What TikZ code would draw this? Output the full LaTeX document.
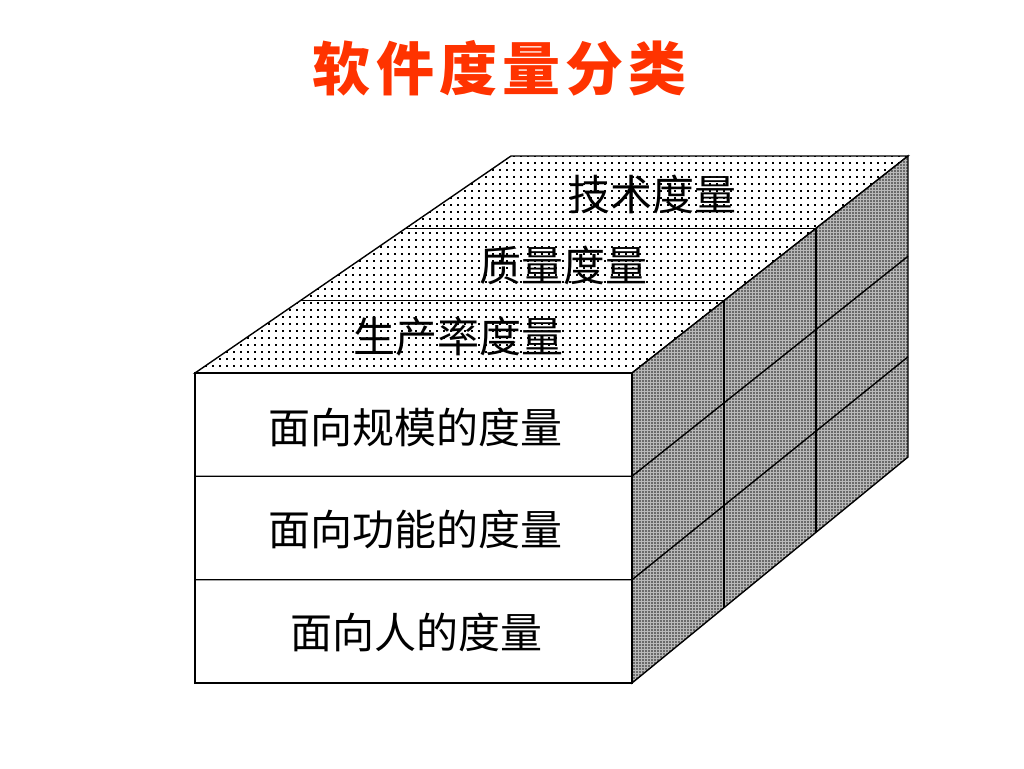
\documentclass[tikz,border=0pt]{standalone}
\usepackage{xcolor}
\usepackage{fontspec}
\usetikzlibrary{calc,patterns.meta}
\newfontfamily\cjk{Noto Sans CJK SC}
\newfontfamily\cjktitulo[LetterSpace=9]{Noto Sans CJK SC}
\definecolor{titulo}{HTML}{FF3300}

% Puntos ralos de la cara superior
\tikzdeclarepattern{
  name=puntosralos, type=uncolored,
  bottom left={(0pt,0pt)}, top right={(7pt,7pt)}, tile size={(7pt,7pt)},
  code={\fill (2.5pt,2.5pt) rectangle (4.3pt,4.3pt);}
}
% Puntos densos de la cara lateral
\tikzdeclarepattern{
  name=puntosdensos, type=uncolored,
  bottom left={(0pt,0pt)}, top right={(3pt,3pt)}, tile size={(3pt,3pt)},
  code={\fill (0.5pt,0.5pt) rectangle (2.1pt,2.1pt);}
}

\begin{document}
\begin{tikzpicture}[x=1pt, y=-1pt,
    etiqueta/.style={font=\cjk\fontsize{42}{42}\selectfont, inner sep=0pt},
    arista/.style={draw=black, line width=1.4pt, line join=miter}]
        \useasboundingbox (0,0) rectangle (1024,768);
        % Título
        \node[font=\cjktitulo\bfseries\fontsize{58}{58}\selectfont, text=titulo, inner sep=0pt] (titulo) at (500,68)
            {软件度量分类};
        % Vértices del cubo
        \coordinate (A) at (195,373);
        \coordinate (B) at (632,373);
        \coordinate (C) at (632,683);
        \coordinate (D) at (195,683);
        \coordinate (E) at (511,156);
        \coordinate (F) at (908,156);
        \coordinate (G) at (908,457);
        % Cara superior
        \draw[arista, pattern=puntosralos] (A) -- (E) -- (F) -- (B) -- cycle;
        % Cara lateral
        \draw[arista, preaction={fill=gray!55}, pattern=puntosdensos] (B) -- (F) -- (G) -- (C) -- cycle;
        % Cara frontal
        \draw[arista, fill=white] (A) rectangle (C);
        % Divisiones en tercios
        \foreach \t in {0.333,0.667} {
            \draw[arista] ($(A)!\t!(D)$) -- ($(B)!\t!(C)$) -- ($(F)!\t!(G)$);
            \draw[arista] ($(A)!\t!(E)$) -- ($(B)!\t!(F)$) -- ($(C)!\t!(G)$);
        }
        % Etiquetas de la cara superior
        \node[etiqueta] (tecnica) at (652,194) {技术度量};
        \node[etiqueta] (calidad) at (563,265) {质量度量};
        \node[etiqueta] (productividad) at (458,337) {生产率度量};
        % Etiquetas de la cara frontal
        \node[etiqueta] (tamano) at (415,427) {面向规模的度量};
        \node[etiqueta] (funcion) at (415,529) {面向功能的度量};
        \node[etiqueta] (personas) at (416,632) {面向人的度量};
    \end{tikzpicture}
\end{document}
